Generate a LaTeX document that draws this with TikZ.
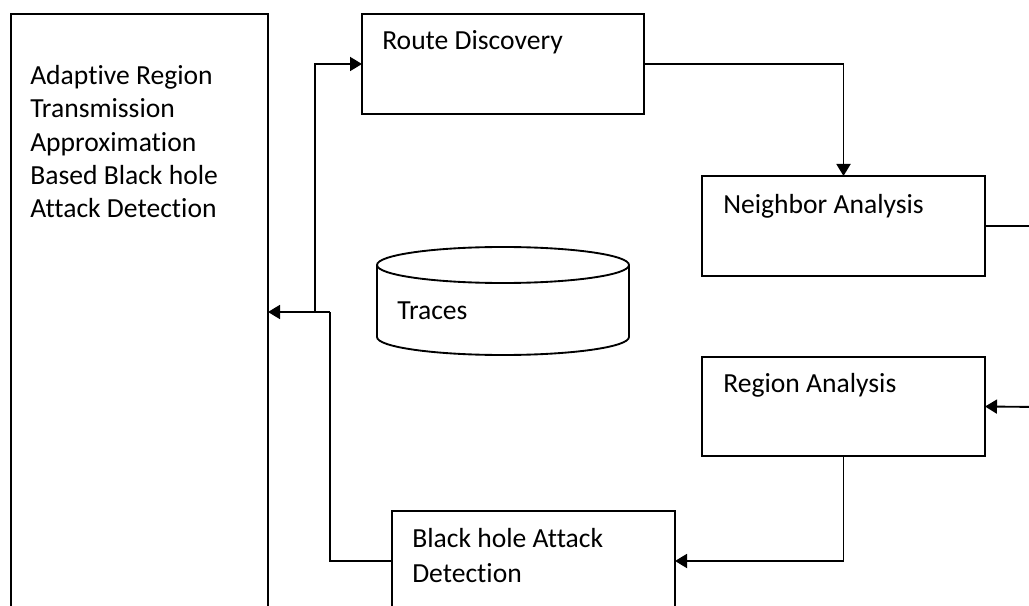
\documentclass[tikz,border=0pt]{standalone}
\usepackage{fontspec}
\setmainfont{Carlito}[Ligatures={NoCommon,NoContextual}]
\usetikzlibrary{arrows.meta,calc}

\tikzset{
  stroke/.style={line width=1.4pt, black},
  box/.style={stroke, draw, rectangle, outer sep=0pt, inner sep=0pt, anchor=north west},
  lbl/.style={anchor=base west, inner sep=0pt, align=left,
    font=\fontsize{20.7pt}{25pt}\selectfont},
  arr/.style={stroke, -{Triangle[length=9pt,width=10.5pt]}},
}

\begin{document}
\begin{tikzpicture}[x=0.75pt, y=-0.75pt]
  \useasboundingbox (0,0) rectangle (1029,606);
  \clip (0,0) rectangle (1029,606);

  % process boxes (the tall one and the bottom one run past the lower edge)
  \node[box, minimum width=192.75pt, minimum height=465pt] (big) at (11,14) {};
  \node[box, minimum width=211.5pt,  minimum height=75pt]  (rd)  at (362,14) {};
  \node[box, minimum width=212.25pt, minimum height=75pt]  (na)  at (702,176) {};
  \node[box, minimum width=212.25pt, minimum height=74.25pt] (ra) at (702,357) {};
  \node[box, minimum width=212.25pt, minimum height=90pt]  (bh)  at (392,511) {};

  % box captions (multi-line captions are placed by their last baseline)
  \node[lbl] (bigtxt) at (30,218) {Adaptive Region\\Transmission\\Approximation\\Based Black hole\\Attack Detection};
  \node[lbl] (rdtxt) at (382,50) {Route Discovery};
  \node[lbl] (natxt) at (723,214) {Neighbor Analysis};
  \node[lbl] (ratxt) at (723,392) {Region Analysis};
  \node[lbl, font=\fontsize{20.7pt}{26.25pt}\selectfont] (bhtxt) at (412,582) {Black hole Attack\\Detection};

  % trace store drawn as a cylinder
  \draw[stroke] (503,265) ellipse[x radius=94.5pt, y radius=13.5pt];
  \draw[stroke] (377,265) -- (377,337)
    arc[start angle=180, end angle=360, x radius=94.5pt, y radius=13.5pt] -- (629,265);
  \node[lbl] (traces) at (397,320) {Traces};

  % junction points and off-edge ends
  \coordinate (j0) at (315,312);
  \coordinate (j1) at (330,312);
  \coordinate (bigin) at ($(big.north east)+(0,298)$);
  \coordinate (naout) at (1040,226);
  \coordinate (rain) at (1040,407);

  % connectors
  \draw[arr] (rd.east) -| (na.north);
  \draw[stroke] (na.east) -- (naout);
  \draw[arr] (rain) -- (ra.east);
  \draw[arr] (ra.south) |- ($(bh.north east)+(0,50)$);
  \draw[stroke] ($(bh.north west)+(0,50)$) -| (j1);
  \draw[arr] (j1) -- (bigin);
  \draw[arr] (j0) |- (rd.west);
\end{tikzpicture}
\end{document}
